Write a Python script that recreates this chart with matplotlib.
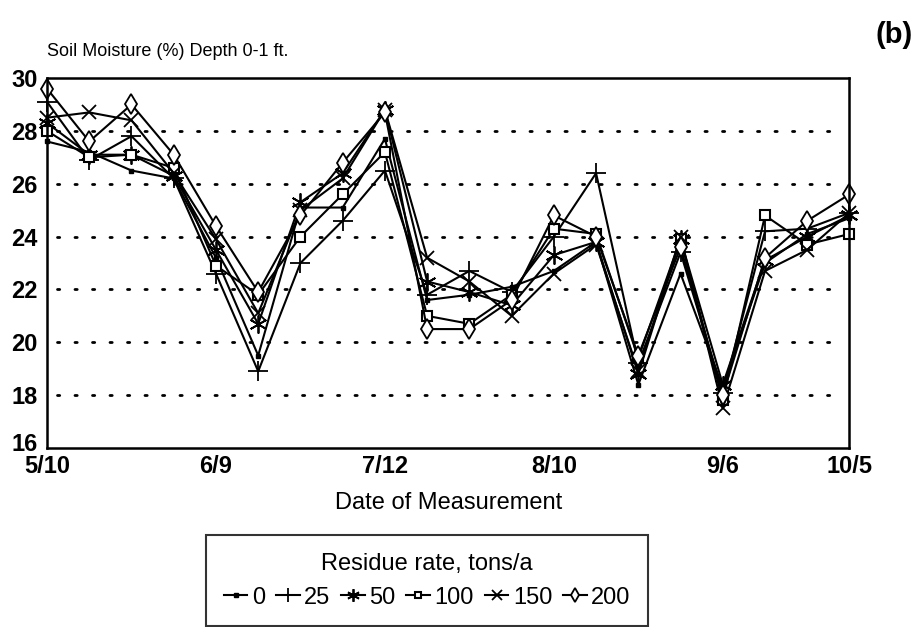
import matplotlib
matplotlib.use("Agg")
import matplotlib.pyplot as plt
import matplotlib.transforms as mtransforms

plt.rcParams['font.family'] = ['Liberation Sans', 'DejaVu Sans']

# measurement number (equally spaced on the chart)
n_points = 20
tick_pos = [0, 4, 8, 12, 16, 19]
tick_labels = ['5/10', '6/9', '7/12', '8/10', '9/6', '10/5']

# soil moisture (%) per residue rate
r0 = [27.6, 27.2, 26.5, 26.2, 23.2, 19.5, 25.1, 25.1, 27.7, 21.6,
      21.8, 22.1, 22.7, 23.8, 18.4, 22.6, 18.3, 23.0, 24.1, 24.7]
r25 = [29.1, 26.9, 27.8, 26.2, 22.6, 18.9, 23.0, 24.6, 26.5, 21.8,
       22.7, 21.9, 24.0, 26.4, 19.2, 23.4, 18.1, 24.2, 24.3, 24.9]
r50 = [28.3, 27.1, 27.1, 26.3, 23.5, 20.7, 25.3, 26.4, 28.8, 22.3,
       21.9, 21.4, 23.3, 23.8, 18.8, 23.9, 18.4, 23.1, 24.0, 24.8]
r100 = [28.0, 27.0, 27.1, 26.6, 22.9, 21.8, 24.0, 25.6, 27.2, 21.0,
        20.7, 21.8, 24.3, 24.1, 19.4, 23.9, 17.8, 24.8, 23.7, 24.1]
r150 = [28.5, 28.7, 28.4, 26.4, 23.9, 21.1, 25.0, 26.2, 28.8, 23.2,
        22.3, 21.0, 22.6, 23.7, 18.9, 24.0, 17.5, 22.7, 23.5, 24.9]
r200 = [29.6, 27.6, 29.0, 27.1, 24.4, 21.9, 24.8, 26.8, 28.7, 20.5,
        20.5, 21.6, 24.8, 24.0, 19.5, 23.6, 18.0, 23.2, 24.6, 25.6]

series = [
    ('0', r0, dict(marker='s', ms=3.5, mfc='black')),
    ('25', r25, dict(marker='+', ms=15, mew=1.3)),
    ('50', r50, dict(marker=(6, 2, 0), ms=13, mew=1.3)),
    ('100', r100, dict(marker='s', ms=7, mfc='white', mew=1.5)),
    ('150', r150, dict(marker='x', ms=10, mew=1.3)),
    ('200', r200, dict(marker='d', ms=10, mfc='white', mew=1.3)),
]

fig = plt.figure(figsize=(9.15, 6.27), dpi=100)
ax = fig.add_axes([0.0514, 0.2855, 0.877, 0.590])

x = list(range(n_points))
for name, vals, style in series:
    ax.plot(x, vals, color='black', lw=1.5, label=name, clip_on=False, **style)

# dotted grid lines
for yv in [18, 20, 22, 24, 26, 28]:
    ax.axhline(yv, xmin=0.012, xmax=0.985, color='black',
               lw=2, linestyle=(0, (0.8, 5.5)), dash_capstyle='round', zorder=0)

ax.set_xlim(0, 19)
ax.set_ylim(16, 30)
ax.set_yticks([16, 18, 20, 22, 24, 26, 28, 30])
ax.set_xticks(tick_pos)
ax.set_xticklabels(tick_labels)
ax.tick_params(axis='both', length=0, labelsize=17)
ax.tick_params(axis='y', pad=7)
ax.tick_params(axis='x', pad=5)
for lbl in ax.get_xticklabels() + ax.get_yticklabels():
    lbl.set_fontweight('bold')
for sp in ax.spines.values():
    sp.set_linewidth(1.8)

# lift the bottom "16" label a little so it clears "5/10"
lift = mtransforms.ScaledTranslation(0, 4 / 72, fig.dpi_scale_trans)
ax.get_yticklabels()[0].set_transform(ax.get_yticklabels()[0].get_transform() + lift)

fig.text(0.051, 0.918, 'Soil Moisture (%) Depth 0-1 ft.', fontsize=13,
         ha='left', va='center')
fig.text(0.997, 0.944, '(b)', fontsize=21, fontweight='bold',
         ha='right', va='center')
ax.set_xlabel('Date of Measurement', fontsize=17, labelpad=10)

leg = fig.legend(loc='center', bbox_to_anchor=(0.467, 0.074), ncol=6,
                 title='Residue rate, tons/a', title_fontsize=17, fontsize=17,
                 handlelength=1.0, handletextpad=0.2, columnspacing=0.45,
                 frameon=True, fancybox=False, edgecolor='black',
                 borderpad=0.75, markerscale=0.7)
leg.get_frame().set_linewidth(1.5)

fig.savefig('out.png', dpi=100)
